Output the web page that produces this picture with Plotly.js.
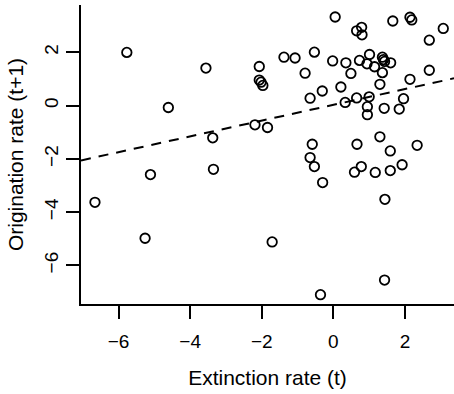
<!DOCTYPE html>
<html>
<head>
<meta charset="utf-8">
<script src="https://cdn.plot.ly/plotly-3.0.1.min.js"></script>
<style>html,body{margin:0;padding:0;background:#fff;}#chart{width:454px;height:394px;}</style>
</head>
<body>
<div id="chart"></div>
<script>
// Extinction rate (t)
var extinctionRate = [
  -6.66, -5.77, -5.26, -5.11, -4.61, -3.56, -3.37, -3.35, -2.07, -2.07,
  -2.02, -1.97, -2.19, -1.84, -1.71, -1.38, -1.07, -0.79, -0.53, -0.65,
  -0.31, -0.59, -0.65, -0.53, -0.30, -0.36, 0.05, -0.02, 0.35, 0.49,
  0.21, 0.33, 0.65, 0.65, 0.79, 0.80, 0.73, 1.01, 0.94, 1.15,
  1.37, 1.40, 1.43, 1.60, 1.37, 1.30, 1.00, 0.95, 0.95, 1.42,
  1.84, 1.96, 2.14, 2.68, 2.68, 3.07, 1.66, 2.14, 2.19, 1.30,
  0.66, 1.59, 2.34, 0.59, 0.78, 1.17, 1.59, 1.92, 1.44, 1.43
];
// Origination rate (t+1)
var originationRate = [
  -3.63, 2.00, -4.98, -2.59, -0.07, 1.41, -1.21, -2.39, 1.47, 0.96,
  0.88, 0.76, -0.72, -0.82, -5.12, 1.82, 1.79, 1.22, 2.01, 0.28,
  0.55, -1.45, -1.95, -2.29, -2.89, -7.10, 3.33, 1.68, 1.61, 1.21,
  0.70, 0.12, 0.29, 2.81, 2.94, 2.66, 1.70, 1.92, 1.57, 1.46,
  1.82, 1.73, 1.66, 1.61, 1.24, 0.80, 0.33, -0.04, -0.34, -0.10,
  -0.13, 0.26, 0.99, 1.33, 2.46, 2.90, 3.18, 3.32, 3.22, -1.17,
  -1.45, -1.70, -1.49, -2.50, -2.29, -2.51, -2.44, -2.22, -3.52, -6.55
];
// Fitted regression line
var fitIntercept = 0.03;
var fitSlope = 0.296;

var xTicks = [-6, -4, -2, 0, 2];
var yTicks = [-6, -4, -2, 0, 2];
var xRange = [-7.05, 3.37];
var yRange = [-7.45, 3.78];

var lineX = xRange.slice();
var lineY = lineX.map(function (x) { return fitIntercept + fitSlope * x; });

function fmt(v) { return v < 0 ? '\u2212' + Math.abs(v) : String(v); }

var tickFont = {family: 'Liberation Sans, Arial, sans-serif', size: 19, color: '#000'};
var titleFont = {family: 'Liberation Sans, Arial, sans-serif', size: 21, color: '#000'};

var traces = [
  {
    x: extinctionRate, y: originationRate, type: 'scatter', mode: 'markers',
    marker: {symbol: 'circle-open', size: 9.5, color: '#000', line: {width: 1.8, color: '#000'}},
    hoverinfo: 'skip', showlegend: false
  },
  {
    x: lineX, y: lineY, type: 'scatter', mode: 'lines',
    line: {color: '#000', width: 2, dash: '10px,8px'},
    hoverinfo: 'skip', showlegend: false
  }
];

var layout = {
  width: 454, height: 394,
  margin: {l: 81, r: 0, t: 5, b: 90},
  paper_bgcolor: '#fff', plot_bgcolor: '#fff',
  font: tickFont,
  showlegend: false,
  xaxis: {
    range: xRange, tickvals: xTicks, ticktext: xTicks.map(fmt),
    showgrid: false, zeroline: false, showline: true, linecolor: '#000', linewidth: 2,
    ticks: 'outside', ticklen: 13, tickwidth: 2, tickcolor: '#000',
    ticklabelstandoff: 6,
    tickfont: tickFont,
    title: {text: 'Extinction rate (t)', font: titleFont, standoff: 20}
  },
  yaxis: {
    range: yRange, tickvals: yTicks, ticktext: yTicks.map(fmt),
    tickangle: -90,
    showgrid: false, zeroline: false, showline: true, linecolor: '#000', linewidth: 2,
    ticks: 'outside', ticklen: 13, tickwidth: 2, tickcolor: '#000',
    tickfont: tickFont,
    title: {text: 'Origination rate (t+1)', font: titleFont, standoff: 12}
  }
};

Plotly.newPlot('chart', traces, layout, {staticPlot: true, displayModeBar: false});
</script>
</body>
</html>
